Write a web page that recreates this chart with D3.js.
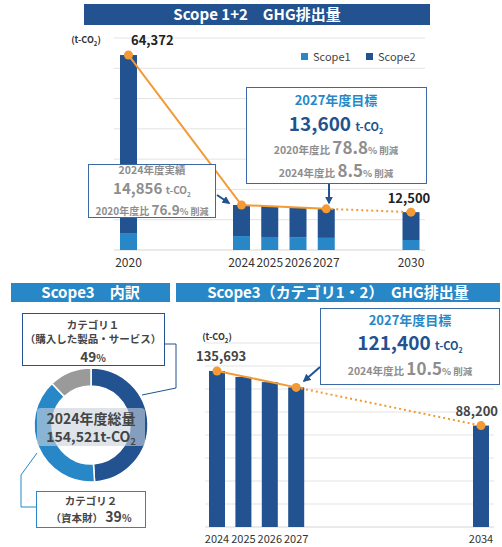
<!DOCTYPE html>
<html>
<head>
<meta charset="utf-8">
<script src="https://cdn.jsdelivr.net/npm/d3@7"></script>
<style>
  body { margin: 0; background: #fff; }
  svg { font-family: "Noto Sans CJK JP", "Noto Sans", sans-serif; }
</style>
</head>
<body>
<div id="chart"></div>
<script>
// Scope 1+2
const topYears = [2020, 2024, 2025, 2026, 2027, 2030];
const scope1 = [5600, 4600, 4300, 4100, 4000, 3300];
const scope2 = [58772, 10256, 10230, 10100, 9600, 9200];
const topLineYears = [2020, 2024, 2027];
const topLineVals = [64372, 14856, 13600];
const topTargetYears = [2027, 2030];
const topTargetVals = [13600, 12500];

// Scope3 breakdown
const donutCats = ["カテゴリ1", "カテゴリ2", "その他"];
const donutShares = [49, 39, 12];

// Scope3 cat 1+2
const s3Years = [2024, 2025, 2026, 2027, 2034];
const s3Vals = [135693, 130500, 126000, 121400, 88200];
const s3LineYears = [2024, 2027];
const s3TargetYears = [2027, 2034];

const DARK = "#22528f", LIGHT = "#2888c7", ORANGE = "#f39a35", GRAY = "#8e8e8e", GRID = "#e3e3e3";

const svg = d3.select("#chart").append("svg").attr("width", 502).attr("height", 547);

// mixed-size text on one line
function rich(g, x, y, parts) {
  const t = g.append("text").attr("x", x).attr("y", y).attr("text-anchor", "middle").attr("font-weight", "bold");
  parts.forEach(p => {
    const s = t.append("tspan").text(p.t).attr("font-size", p.size).attr("fill", p.fill || GRAY);
    if (p.sub) s.attr("dy", 3);
    if (p.after) s.attr("dy", -3);
  });
  return t;
}
function co2(size, fill) {
  return [{ t: "t-CO", size, fill }, { t: "2", size: size * 0.65, fill, sub: true }];
}
function titleBar(x, y, w, h, color, label) {
  svg.append("rect").attr("x", x).attr("y", y).attr("width", w).attr("height", h).attr("fill", color);
  svg.append("text").attr("x", x + w / 2).attr("y", y + h / 2 + 5).attr("text-anchor", "middle")
    .attr("fill", "#fff").attr("font-weight", "bold").attr("font-size", 15).text(label);
}

// ---------- Scope 1+2 ----------
titleBar(84, 4, 346, 21, DARK, "Scope 1+2　GHG排出量");

const x1 = d3.scaleLinear().domain([2020, 2030]).range([128.5, 411]);
const y1 = d3.scaleLinear().domain([0, 70000]).range([250, 38]);
const g1 = svg.append("g");

g1.selectAll("line.grid").data(y1.ticks(7)).join("line")
  .attr("x1", 114).attr("x2", 425).attr("y1", d => y1(d)).attr("y2", d => y1(d))
  .attr("stroke", GRID).attr("stroke-width", d => d === 0 ? 1.5 : 1);

const bw1 = 17;
topYears.forEach((yr, i) => {
  g1.append("rect").attr("x", x1(yr) - bw1 / 2).attr("width", bw1)
    .attr("y", y1(scope1[i])).attr("height", y1(0) - y1(scope1[i])).attr("fill", LIGHT);
  g1.append("rect").attr("x", x1(yr) - bw1 / 2).attr("width", bw1)
    .attr("y", y1(scope1[i] + scope2[i])).attr("height", y1(scope1[i]) - y1(scope1[i] + scope2[i])).attr("fill", DARK);
  g1.append("text").attr("x", x1(yr)).attr("y", 267).attr("text-anchor", "middle")
    .attr("font-size", 12).attr("fill", "#333").text(yr);
});

const line1 = d3.line().x(d => x1(d[0])).y(d => y1(d[1]));
g1.append("path").attr("d", line1(d3.zip(topLineYears, topLineVals)))
  .attr("fill", "none").attr("stroke", ORANGE).attr("stroke-width", 2);
g1.append("path").attr("d", line1(d3.zip(topTargetYears, topTargetVals)))
  .attr("fill", "none").attr("stroke", ORANGE).attr("stroke-width", 2).attr("stroke-dasharray", "2,3");
g1.selectAll("circle").data(d3.zip(topLineYears.concat([2030]), topLineVals.concat([12500]))).join("circle")
  .attr("cx", d => x1(d[0])).attr("cy", d => y1(d[1])).attr("r", 4.5).attr("fill", ORANGE);

rich(g1, 86, 43, [{ t: "(t-CO", size: 9, fill: "#333" }, { t: "2", size: 6, fill: "#333", sub: true }, { t: ")", size: 9, fill: "#333", after: true }]);
g1.append("text").attr("x", 131).attr("y", 45).attr("font-weight", "bold").attr("font-size", 13).attr("fill", "#222").text("64,372");
g1.append("text").attr("x", 409).attr("y", 203).attr("text-anchor", "middle").attr("font-weight", "bold").attr("font-size", 13).attr("fill", "#222").text("12,500");

// legend
[["Scope1", LIGHT, 301], ["Scope2", DARK, 366]].forEach(([name, c, lx]) => {
  g1.append("rect").attr("x", lx).attr("y", 53).attr("width", 7).attr("height", 7).attr("fill", c);
  g1.append("text").attr("x", lx + 12).attr("y", 61).attr("font-size", 11).attr("fill", "#444").text(name);
});

// 2027 target box
g1.append("rect").attr("x", 246.5).attr("y", 87.5).attr("width", 180).attr("height", 96).attr("fill", "#fff").attr("stroke", "#3b69a6");
rich(g1, 336, 105, [{ t: "2027年度目標", size: 13, fill: LIGHT }]);
rich(g1, 336, 131, [{ t: "13,600 ", size: 19, fill: DARK }].concat(co2(11, DARK)));
rich(g1, 336, 154, [{ t: "2020年度比 ", size: 10.5 }, { t: "78.8", size: 17 }, { t: "% 削減", size: 9.5 }]);
rich(g1, 336, 177, [{ t: "2024年度比 ", size: 10.5 }, { t: "8.5", size: 17 }, { t: "% 削減", size: 9.5 }]);

// 2024 actual box
g1.append("rect").attr("x", 88.5).attr("y", 164.5).attr("width", 127).attr("height", 53).attr("fill", "#fff").attr("stroke", "#3b69a6");
rich(g1, 152, 174, [{ t: "2024年度実績", size: 10.5 }]);
rich(g1, 152, 194, [{ t: "14,856 ", size: 15 }].concat(co2(10, GRAY)));
rich(g1, 152, 214.5, [{ t: "2020年度比 ", size: 10 }, { t: "76.9", size: 13.5 }, { t: "% 削減", size: 9 }]);

// arrows
const defs = svg.append("defs");
defs.append("marker").attr("id", "arr").attr("viewBox", "0 0 10 10").attr("refX", 8).attr("refY", 5)
  .attr("markerWidth", 4).attr("markerHeight", 4).attr("orient", "auto")
  .append("path").attr("d", "M0,0L10,5L0,10z").attr("fill", DARK);
g1.append("line").attr("x1", 329).attr("y1", 184).attr("x2", 329).attr("y2", 203)
  .attr("stroke", DARK).attr("stroke-width", 2).attr("marker-end", "url(#arr)");
g1.append("line").attr("x1", 217).attr("y1", 195).attr("x2", 229).attr("y2", 203)
  .attr("stroke", DARK).attr("stroke-width", 2).attr("marker-end", "url(#arr)");

// ---------- Scope3 breakdown ----------
titleBar(11, 283, 159, 19, LIGHT, "Scope3　内訳");
const g2 = svg.append("g").attr("transform", "translate(91,425)");
const pie = d3.pie().sort(null)(donutShares);
const arc = d3.arc().innerRadius(39).outerRadius(57);
g2.selectAll("path").data(pie).join("path").attr("d", arc)
  .attr("fill", (d, i) => [DARK, LIGHT, "#9a9a9a"][i]).attr("stroke", "#fff").attr("stroke-width", 1.5);
g2.append("rect").attr("x", -54).attr("y", -17).attr("width", 108).attr("height", 38).attr("rx", 4)
  .attr("fill", "#c9d2dc").attr("opacity", 0.6);
rich(g2, 0, -1, [{ t: "2024年度総量", size: 14, fill: "#444" }]);
rich(g2, 0, 17, [{ t: "154,521t-CO", size: 14, fill: "#444" }, { t: "2", size: 9, fill: "#444", sub: true }]);

// category labels
svg.append("rect").attr("x", 22.5).attr("y", 313.5).attr("width", 142).attr("height", 52).attr("fill", "#fff").attr("stroke", DARK);
rich(svg, 93, 329, [{ t: "カテゴリ１", size: 10.5, fill: "#444" }]);
rich(svg, 93, 343, [{ t: "（購入した製品・サービス）", size: 10.5, fill: "#444" }]);
rich(svg, 93, 362, [{ t: donutShares[0], size: 13.5, fill: "#444" }, { t: "%", size: 10, fill: "#444" }]);
svg.append("polyline").attr("points", "165,344 176,344 176,388 142,395").attr("fill", "none").attr("stroke", DARK).attr("stroke-width", 1);

svg.append("rect").attr("x", 36.5).attr("y", 491.5).attr("width", 109).attr("height", 36).attr("fill", "#fff").attr("stroke", LIGHT);
rich(svg, 91, 505, [{ t: "カテゴリ２", size: 10.5, fill: "#444" }]);
rich(svg, 91, 522, [{ t: "（資本財）  ", size: 10.5, fill: "#444" }, { t: donutShares[1], size: 14, fill: "#444" }, { t: "%", size: 10, fill: "#444" }]);
svg.append("polyline").attr("points", "36,507 21,507 21,475 37,453").attr("fill", "none").attr("stroke", LIGHT).attr("stroke-width", 1);

// ---------- Scope3 cat 1,2 ----------
titleBar(176, 283, 324, 19, LIGHT, "Scope3（カテゴリ1・2）　GHG排出量");
const x3 = d3.scaleLinear().domain([2024, 2034]).range([217, 481]);
const y3 = d3.scaleLinear().domain([0, 160000]).range([527, 343]);
const g3 = svg.append("g");
g3.selectAll("line.grid").data(y3.ticks(8)).join("line")
  .attr("x1", 205).attr("x2", 494).attr("y1", d => y3(d)).attr("y2", d => y3(d))
  .attr("stroke", GRID).attr("stroke-width", d => d === 0 ? 1.5 : 1);
const bw3 = 16;
s3Years.forEach((yr, i) => {
  g3.append("rect").attr("x", x3(yr) - bw3 / 2).attr("width", bw3)
    .attr("y", y3(s3Vals[i])).attr("height", y3(0) - y3(s3Vals[i])).attr("fill", DARK);
  g3.append("text").attr("x", x3(yr)).attr("y", 543).attr("text-anchor", "middle")
    .attr("font-size", 11).attr("fill", "#333").text(yr);
});
const val3 = yr => s3Vals[s3Years.indexOf(yr)];
const line3 = d3.line().x(d => x3(d)).y(d => y3(val3(d)));
g3.append("path").attr("d", line3(s3LineYears)).attr("fill", "none").attr("stroke", ORANGE).attr("stroke-width", 2);
g3.append("path").attr("d", line3(s3TargetYears)).attr("fill", "none").attr("stroke", ORANGE).attr("stroke-width", 2).attr("stroke-dasharray", "2,3");
g3.selectAll("circle").data([2024, 2027, 2034]).join("circle")
  .attr("cx", d => x3(d)).attr("cy", d => y3(val3(d))).attr("r", 4.5).attr("fill", ORANGE);

rich(g3, 217, 340, [{ t: "(t-CO", size: 9, fill: "#333" }, { t: "2", size: 6, fill: "#333", sub: true }, { t: ")", size: 9, fill: "#333", after: true }]);
g3.append("text").attr("x", 196).attr("y", 361).attr("font-weight", "bold").attr("font-size", 13).attr("fill", "#444").text("135,693");
g3.append("text").attr("x", 498).attr("y", 416).attr("text-anchor", "end").attr("font-weight", "bold").attr("font-size", 13).attr("fill", "#444").text("88,200");

g3.append("rect").attr("x", 320.5).attr("y", 308.5).attr("width", 179).attr("height", 76).attr("fill", "#fff").attr("stroke", "#3b69a6");
rich(g3, 410, 325, [{ t: "2027年度目標", size: 13, fill: LIGHT }]);
rich(g3, 410, 350, [{ t: "121,400 ", size: 19, fill: DARK }].concat(co2(11, DARK)));
rich(g3, 410, 375, [{ t: "2024年度比 ", size: 10.5 }, { t: "10.5", size: 17 }, { t: "% 削減", size: 9.5 }]);
g3.append("line").attr("x1", 320).attr("y1", 367).attr("x2", 304).attr("y2", 381)
  .attr("stroke", DARK).attr("stroke-width", 2).attr("marker-end", "url(#arr)");
</script>
</body>
</html>
